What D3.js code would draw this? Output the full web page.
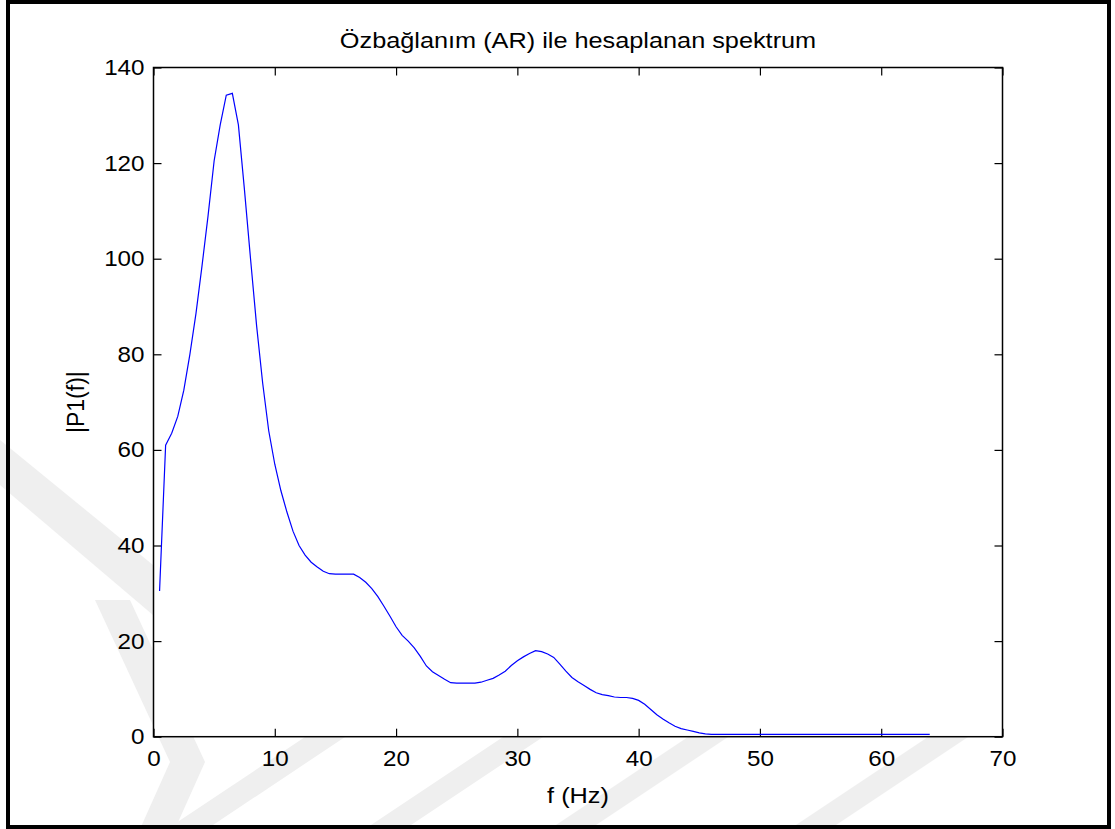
<!DOCTYPE html>
<html>
<head>
<meta charset="utf-8">
<script src="https://cdn.jsdelivr.net/npm/d3@7"></script>
<style>
  body { margin: 0; background: #fff; }
  text { font-family: Arial, "Liberation Sans", sans-serif; fill: #000; }
</style>
</head>
<body>
<div id="chart"></div>
<script>
// frequency axis (Hz) and AR spectrum magnitude
var freq = [
  0.5, 1, 1.5, 2, 2.5, 3, 3.5, 4, 4.5, 5, 5.5, 6, 6.5, 7, 7.5, 8, 8.5, 9, 9.5, 10,
  10.5, 11, 11.5, 12, 12.5, 13, 13.5, 14, 14.5, 15, 15.5, 16, 16.5, 17, 17.5, 18, 18.5, 19, 19.5, 20,
  20.5, 21, 21.5, 22, 22.5, 23, 23.5, 24, 24.5, 25, 25.5, 26, 26.5, 27, 27.5, 28, 28.5, 29, 29.5, 30,
  30.5, 31, 31.5, 32, 32.5, 33, 33.5, 34, 34.5, 35, 35.5, 36, 36.5, 37, 37.5, 38, 38.5, 39, 39.5, 40,
  40.5, 41, 41.5, 42, 42.5, 43, 43.5, 44, 44.5, 45, 45.5, 46, 46.5, 47, 47.5, 48, 48.5, 49, 49.5, 50,
  50.5, 51, 51.5, 52, 52.5, 53, 53.5, 54, 54.5, 55, 55.5, 56, 56.5, 57, 57.5, 58, 58.5, 59, 59.5, 60,
  60.5, 61, 61.5, 62, 62.5, 63, 63.5, 64
];
var power = [
  30.5, 61, 63.5, 67, 72.5, 80, 88.5, 98.5, 109, 120.5, 128, 134.2, 134.6, 128, 114.4, 100, 86, 74, 64, 57,
  51.5, 47, 43, 40, 38, 36.5, 35.5, 34.6, 34.1, 34, 34, 34, 34, 33.3, 32.3, 31, 29.3, 27.3, 25.2, 23,
  21.2, 20, 18.6, 16.8, 14.8, 13.6, 12.8, 12, 11.3, 11.2, 11.2, 11.2, 11.2, 11.4, 11.8, 12.2, 12.9, 13.7, 14.9, 15.9,
  16.7, 17.4, 18, 17.8, 17.3, 16.6, 15.2, 13.7, 12.4, 11.5, 10.7, 9.9, 9.2, 8.8, 8.6, 8.3, 8.2, 8.2, 8, 7.6,
  6.8, 5.7, 4.6, 3.7, 2.9, 2.2, 1.7, 1.4, 1.1, 0.8, 0.6, 0.5, 0.5, 0.5, 0.5, 0.5, 0.5, 0.5, 0.5, 0.5,
  0.5, 0.5, 0.5, 0.5, 0.5, 0.5, 0.5, 0.5, 0.5, 0.5, 0.5, 0.5, 0.5, 0.5, 0.5, 0.5, 0.5, 0.5, 0.5, 0.5,
  0.5, 0.5, 0.5, 0.5, 0.5, 0.5, 0.5, 0.5
];
var xTicks = [0, 10, 20, 30, 40, 50, 60, 70];
var yTicks = [0, 20, 40, 60, 80, 100, 120, 140];

var titleText = "Özbağlanım (AR) ile hesaplanan spektrum";
var xLabel = "f (Hz)";
var yLabel = "|P1(f)|";

var W = 1115, H = 829;
var margin = {top: 67.5, right: 112.5, bottom: 92.3, left: 153.5};
var pw = W - margin.left - margin.right,
    ph = H - margin.top - margin.bottom;
var stretch = 1.1; // the source picture is slightly wider than tall

var svg = d3.select("#chart").append("svg")
  .attr("width", W)
  .attr("height", H);

svg.append("rect").attr("width", W).attr("height", H).attr("fill", "#fff");

// faint background watermark (only the parts outside the axes show)
var wm = svg.append("g").attr("fill", "#efefef");
wm.append("polygon").attr("points", "95,600 130,600 205,762 175,829 140,829 170,762");
wm.append("polygon").attr("points", "0,440 0,485 153,615 153,565");
[167, 365, 550, 790].forEach(function(x0) {
  wm.append("polygon")
    .attr("points", [[x0, 829], [x0 + 40, 829], [x0 + 40 + 1.5 * 92, 737], [x0 + 1.5 * 92, 737]].join(" "));
});

// outer figure frame
svg.append("rect")
  .attr("x", 8).attr("y", 2)
  .attr("width", 1101).attr("height", 825)
  .attr("fill", "none")
  .attr("stroke", "#000")
  .attr("stroke-width", 4);

var g = svg.append("g").attr("transform", "translate(" + margin.left + "," + margin.top + ")");

var x = d3.scaleLinear().domain([0, 70]).range([0, pw]);
var y = d3.scaleLinear().domain([0, 140]).range([ph, 0]);

g.append("rect").attr("width", pw).attr("height", ph).attr("fill", "#fff");

// MATLAB style axes: inward ticks on all four sides
var tickLen = 8;
function styleAxis(sel) {
  sel.select(".domain").remove();
  sel.selectAll(".tick line").attr("stroke", "#000").attr("stroke-width", 1.2);
  sel.selectAll(".tick text")
    .style("font-size", "22px")
    .style("font-family", "Arial, 'Liberation Sans', sans-serif")
    .each(function() {
      var t = d3.select(this);
      var tx = +t.attr("x") || 0, ty = +t.attr("y") || 0;
      t.attr("x", 0).attr("y", 0)
        .attr("transform", "translate(" + tx + "," + ty + ") scale(" + stretch + ",1)");
    });
}

g.append("g").attr("transform", "translate(0," + ph + ")")
  .call(d3.axisBottom(x).tickValues(xTicks).tickSize(-tickLen).tickPadding(14).tickFormat(d3.format("d")))
  .call(styleAxis);
g.append("g")
  .call(d3.axisTop(x).tickValues(xTicks).tickSize(-tickLen).tickFormat(""))
  .call(styleAxis);
g.append("g")
  .call(d3.axisLeft(y).tickValues(yTicks).tickSize(-tickLen).tickPadding(9).tickFormat(d3.format("d")))
  .call(styleAxis);
g.append("g").attr("transform", "translate(" + pw + ",0)")
  .call(d3.axisRight(y).tickValues(yTicks).tickSize(-tickLen).tickFormat(""))
  .call(styleAxis);

g.append("rect").attr("width", pw).attr("height", ph)
  .attr("fill", "none").attr("stroke", "#000").attr("stroke-width", 1.5);

var line = d3.line()
  .x(function(d, i) { return x(freq[i]); })
  .y(function(d) { return y(d); });

g.append("path")
  .datum(power)
  .attr("fill", "none")
  .attr("stroke", "#0000ff")
  .attr("stroke-width", 1.2)
  .attr("d", line);

svg.append("text")
  .attr("transform", "translate(" + (margin.left + pw / 2) + ",48) scale(1.15,1)")
  .attr("text-anchor", "middle")
  .style("font-size", "22px")
  .text(titleText);

svg.append("text")
  .attr("transform", "translate(" + (margin.left + pw / 2) + ",803) scale(1.15,1)")
  .attr("text-anchor", "middle")
  .style("font-size", "22px")
  .text(xLabel);

svg.append("text")
  .attr("transform", "translate(84," + (margin.top + ph / 2) + ") rotate(-90)")
  .attr("text-anchor", "middle")
  .style("font-size", "23px")
  .text(yLabel);
</script>
</body>
</html>
